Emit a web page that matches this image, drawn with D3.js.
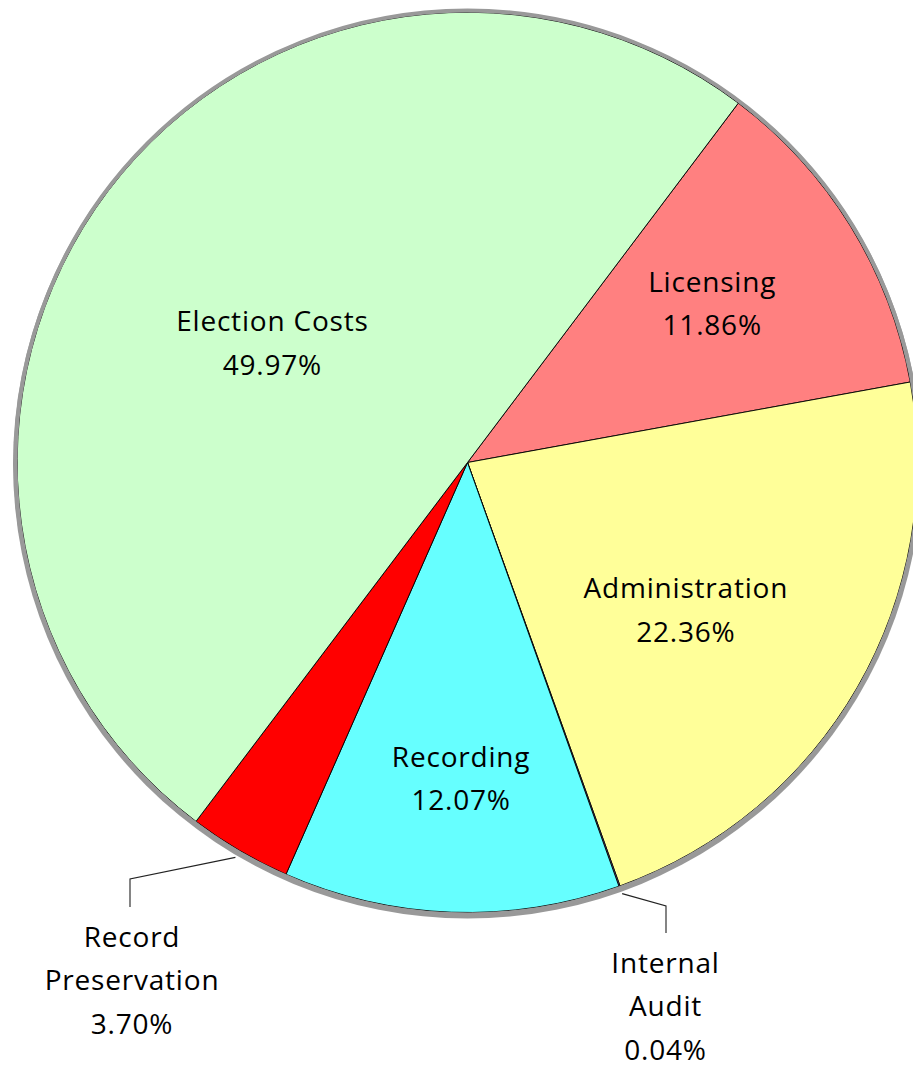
<!DOCTYPE html>
<html><head><meta charset="utf-8">
<script src="https://cdn.jsdelivr.net/npm/d3@7"></script>
<style>html,body{margin:0;padding:0;background:#fff;overflow:hidden}</style>
</head><body><svg id="chart" width="913" height="1067"></svg>
<script>
// ---- data ----
const categories = ["Licensing","Administration","Internal Audit","Recording","Record Preservation","Election Costs"];
const values = [11.86, 22.36, 0.04, 12.07, 3.70, 49.97];
const labelLines = [["Licensing"],["Administration"],["Internal","Audit"],["Recording"],["Record","Preservation"],["Election Costs"]];
const colors = ["#FF8080","#FFFF99","#CC99FF","#66FFFF","#FF0000","#CCFFCC"];

// ---- layout ----
const W = 913, H = 1067;
const cx = 467.5, cy = 462.5, R = 450;
const startDeg = 37;
const fontSize = 28, lineGap = 43.5;
const insideLayout = {
  "Licensing": {k: 0.648, da: -1.3},
  "Administration": {k: 0.586, da: 4.15},
  "Recording": {k: 0.703, da: -0.9},
  "Election Costs": {k: 0.508, da: -5.65}
};
const outsideLayout = {
  "Record Preservation": {elbow: [130, 879], end: 907, textX: 132, base: 946.5},
  "Internal Audit": {elbow: [666, 906], end: 933, textX: 665.5, base: 972.5}
};

const data = categories.map((c, i) => ({name: c, value: values[i], lines: labelLines[i], color: colors[i]}));
const rad = d => d * Math.PI / 180;
const polar = (a, r) => [cx + r * Math.sin(a), cy - r * Math.cos(a)];
const fmt = v => d3.format(".2f")(v) + "%";

const svg = d3.select("#chart");
const pie = d3.pie().sort(null).value(d => d.value)
  .startAngle(rad(startDeg)).endAngle(rad(startDeg) + 2 * Math.PI);
const arcs = pie(data);
const arc = d3.arc().innerRadius(0).outerRadius(R);

// shadow / outline ring
svg.append("circle").attr("cx", cx).attr("cy", cy + 1.5).attr("r", R + 4.5).attr("fill", "#999999");

const g = svg.append("g").attr("transform", `translate(${cx},${cy})`);
g.selectAll("path.slice").data(arcs).join("path")
  .attr("class", "slice")
  .attr("d", arc)
  .attr("fill", d => d.data.color)
  .attr("stroke", "#000").attr("stroke-width", 0.9).attr("stroke-linejoin", "round");

// gray outline on top of outer arc
svg.append("circle").attr("cx", cx).attr("cy", cy).attr("r", R + 2)
  .attr("fill", "none").attr("stroke", "#999999").attr("stroke-width", 4);

// labels
const font = "'Open Sans', 'Noto Sans', sans-serif";
const addText = () => svg.append("text").attr("text-anchor", "middle")
  .attr("font-family", font).attr("font-size", fontSize).attr("letter-spacing", 0.8).attr("fill", "#000");
arcs.forEach(a => {
  const mid = (a.startAngle + a.endAngle) / 2;
  const name = a.data.name;
  const lines = a.data.lines.concat([fmt(a.data.value)]);
  if (insideLayout[name]) {
    const L = insideLayout[name];
    const [x, y] = polar(mid + rad(L.da), R * L.k);
    const t = addText();
    lines.forEach((ln, i) => t.append("tspan").attr("x", x).attr("y", y - 12 + i * lineGap).text(ln));
  } else if (outsideLayout[name]) {
    const L = outsideLayout[name];
    const p0 = polar(mid, R + 8);
    svg.append("path")
      .attr("d", d3.line()([p0, L.elbow, [L.elbow[0], L.end]]))
      .attr("fill", "none").attr("stroke", "#222").attr("stroke-width", 1.1);
    const t = addText();
    lines.forEach((ln, i) => t.append("tspan").attr("x", L.textX).attr("y", L.base + i * lineGap).text(ln));
  }
});
</script>
</body></html>
